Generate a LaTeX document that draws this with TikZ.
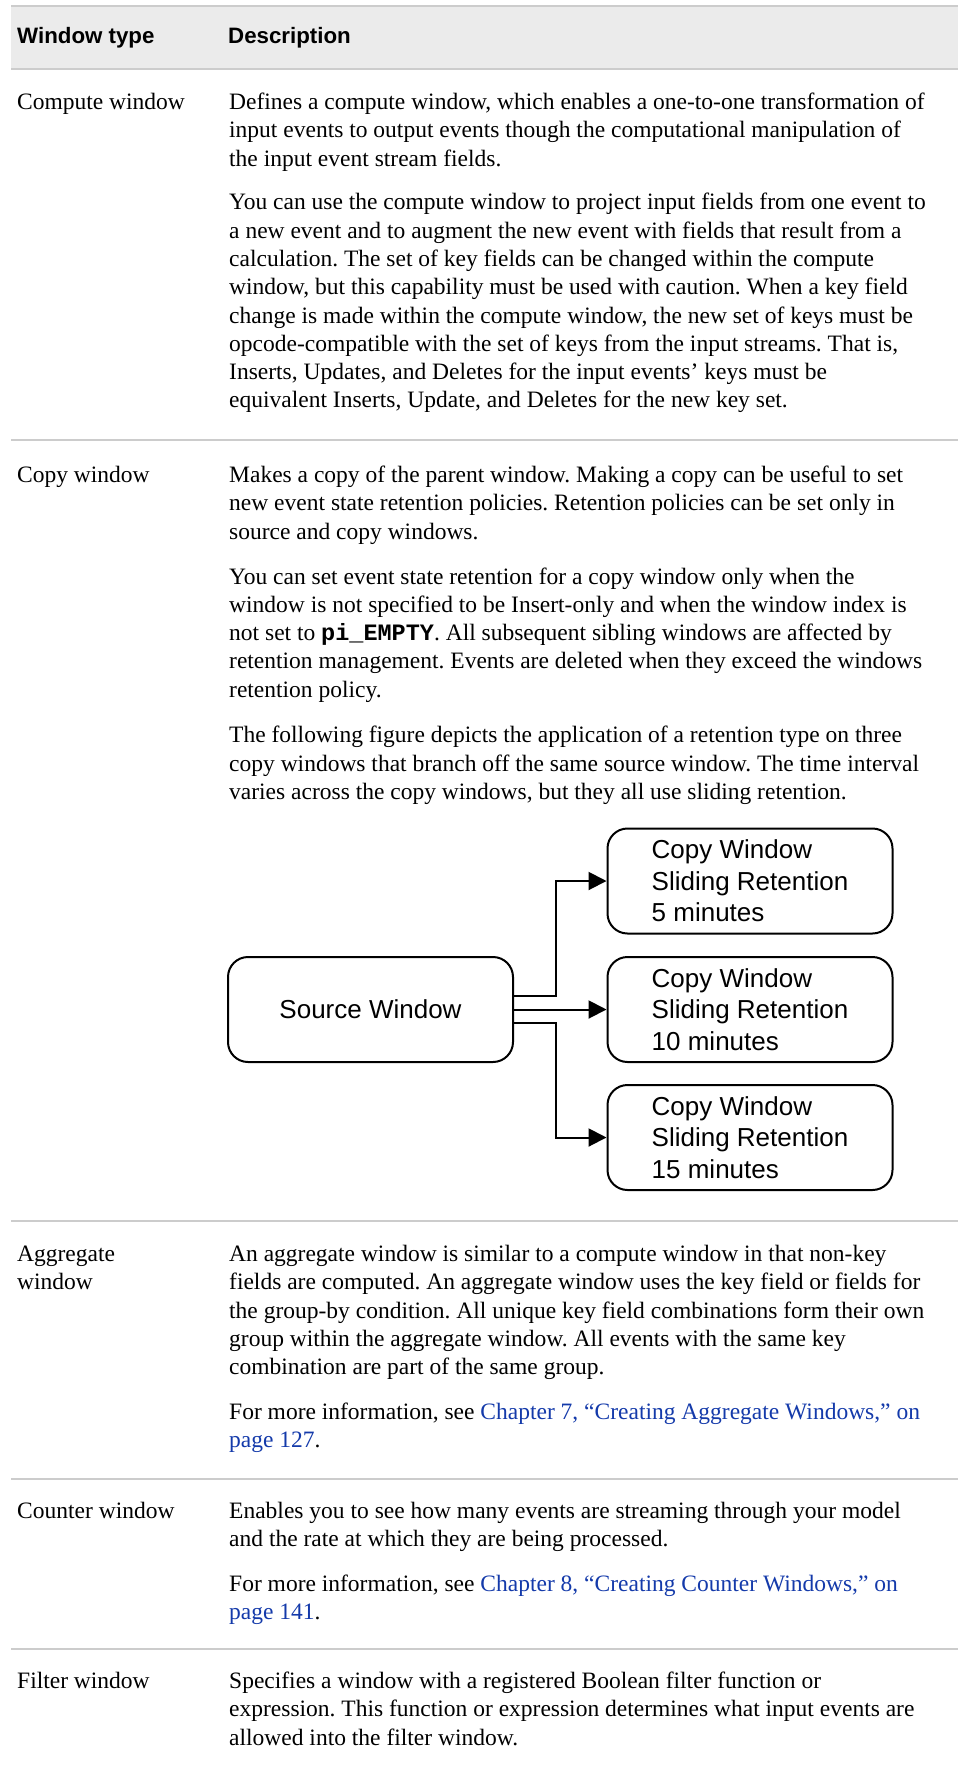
\documentclass[tikz,border=0pt]{standalone}
\usepackage{fontspec}
\setmainfont{Liberation Serif}
\setmonofont{Liberation Mono}
\newfontfamily\headfont{Liberation Sans}
\newfontfamily\figfont{Liberation Sans}
\usetikzlibrary{arrows.meta}
\definecolor{bandgray}{RGB}{235,235,235}
\definecolor{rulegray}{RGB}{204,204,204}
\definecolor{linkblue}{RGB}{20,58,170}
\newcommand{\lnk}[1]{\textcolor{linkblue}{#1}}
\frenchspacing
% multi-line nodes: the base anchor sits on the baseline of the LAST line,
% so each paragraph is placed at its last baseline
\tikzset{
  body/.style={anchor=base west, inner sep=0pt, align=left,
    font=\frenchspacing\fontsize{23.5}{28.3}\selectfont},
  headtext/.style={anchor=base west, inner sep=0pt,
    font=\headfont\bfseries\fontsize{22.3}{26}\selectfont},
  rowrule/.style={draw=rulegray, line width=2pt},
  winbox/.style={draw, line width=2pt, rounded corners=20pt,
    minimum width=285pt, minimum height=105pt, inner sep=0pt, align=left,
    font=\figfont\fontsize{26}{31.5}\selectfont},
  flow/.style={line width=2pt, -{Triangle[length=18pt,width=18pt]}},
}
\begin{document}
\begin{tikzpicture}[x=1pt, y=-1pt]
\useasboundingbox (0,0) rectangle (958,1767);

% header band
\fill[bandgray] (11,6) rectangle (958,69);
\draw[rowrule] (11,6) -- (958,6);
\draw[rowrule] (11,69) -- (958,69);
\node[headtext] (h1) at (17,43) {Window type};
\node[headtext] (h2) at (228,43) {Description};

% compute window
\node[body] (t1) at (17,109.5) {Compute window};
\node[body] (c1a) at (229,166.1) {Defines a compute window, which enables a one-to-one transformation of\\
input events to output events though the computational manipulation of\\
the input event stream fields.};
\node[body] (c1b) at (229,407.9) {You can use the compute window to project input fields from one event to\\
a new event and to augment the new event with fields that result from a\\
calculation. The set of key fields can be changed within the compute\\
window, but this capability must be used with caution. When a key field\\
change is made within the compute window, the new set of keys must be\\
opcode-compatible with the set of keys from the input streams. That is,\\
Inserts, Updates, and Deletes for the input events’ keys must be\\
equivalent Inserts, Update, and Deletes for the new key set.};
\draw[rowrule] (11,439.6) -- (958,439.6);

% copy window
\node[body] (t2) at (17,482.6) {Copy window};
\node[body] (c2a) at (229,539.2) {Makes a copy of the parent window. Making a copy can be useful to set\\
new event state retention policies. Retention policies can be set only in\\
source and copy windows.};
\node[body] (c2b) at (229,697.2) {You can set event state retention for a copy window only when the\\
window is not specified to be Insert-only and when the window index is\\
not set to {\ttfamily\bfseries pi\_EMPTY}. All subsequent sibling windows are affected by\\
retention management. Events are deleted when they exceed the windows\\
retention policy.};
\node[body] (c2c) at (229,799.5) {The following figure depicts the application of a retention type on three\\
copy windows that branch off the same source window. The time interval\\
varies across the copy windows, but they all use sliding retention.};

% retention figure
\node[winbox] (src) at (370.5,1009.5) {Source Window};
\node[winbox] (cw1) at (750,881) {Copy Window\\Sliding Retention\\5 minutes};
\node[winbox] (cw2) at (750,1009.5) {Copy Window\\Sliding Retention\\10 minutes};
\node[winbox] (cw3) at (750,1137.5) {Copy Window\\Sliding Retention\\15 minutes};
\draw[flow] ([yshift=13.5pt]src.east) -- ++(42,0) |- (cw1.west);
\draw[flow] (src.east) -- (cw2.west);
\draw[flow] ([yshift=-13.5pt]src.east) -- ++(42,0) |- (cw3.west);
\draw[rowrule] (11,1220.6) -- (958,1220.6);

% aggregate window
\node[body] (t3) at (17,1289.7) {Aggregate\\window};
\node[body] (c3a) at (229,1374.6) {An aggregate window is similar to a compute window in that non-key\\
fields are computed. An aggregate window uses the key field or fields for\\
the group-by condition. All unique key field combinations form their own\\
group within the aggregate window. All events with the same key\\
combination are part of the same group.};
\node[body] (c3b) at (229,1447.5) {For more information, see \lnk{Chapter 7, “Creating Aggregate Windows,” on}\\
\lnk{page 127}.};
\draw[rowrule] (11,1478.7) -- (958,1478.7);

% counter window
\node[body] (t4) at (17,1518.4) {Counter window};
\node[body] (c4a) at (229,1546.7) {Enables you to see how many events are streaming through your model\\
and the rate at which they are being processed.};
\node[body] (c4b) at (229,1619.9) {For more information, see \lnk{Chapter 8, “Creating Counter Windows,” on}\\
\lnk{page 141}.};
\draw[rowrule] (11,1649) -- (958,1649);

% filter window
\node[body] (t5) at (17,1688.6) {Filter window};
\node[body] (c5a) at (229,1745.2) {Specifies a window with a registered Boolean filter function or\\
expression. This function or expression determines what input events are\\
allowed into the filter window.};
\end{tikzpicture}
\end{document}
